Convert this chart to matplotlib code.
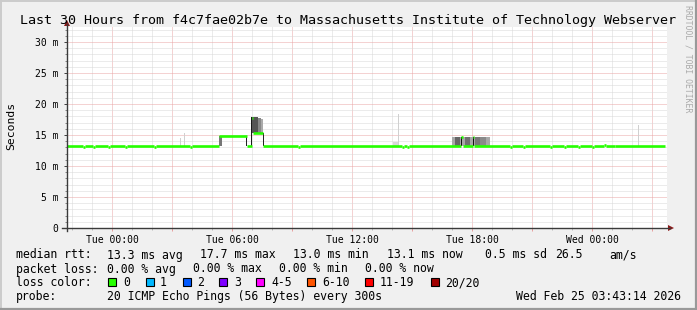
import matplotlib
matplotlib.use("Agg")
from matplotlib import pyplot as plt
from matplotlib.lines import Line2D
from matplotlib.patches import Polygon, Rectangle
import numpy as np

W, H = 697, 310
MONO = "DejaVu Sans Mono"

# median rtt (ms) as steps: hour (relative to Tue 00:00) where each value starts
med_t = [-2.25, -1.45, -1.37, -0.95, -0.87, -0.20, -0.12, 0.65, 0.73, 2.10,
         2.18, 3.90, 3.98, 5.37, 6.73, 6.98, 7.06, 7.57, 9.30, 9.38,
         14.50, 14.58, 14.75, 14.83, 17.45, 17.53, 18.03, 18.11, 19.90, 19.98,
         20.55, 20.63, 21.90, 21.98, 22.60, 22.68, 23.30, 23.38, 24.00, 24.08,
         24.60, 24.68, 25.15]
med_v = [13.3, 13.1, 13.3, 13.1, 13.3, 13.1, 13.3, 13.1, 13.3, 13.1,
         13.3, 13.1, 13.3, 14.9, 13.3, 17.7, 15.4, 13.3, 13.1, 13.3,
         13.1, 13.3, 13.1, 13.3, 14.6, 13.3, 14.6, 13.3, 13.1, 13.3,
         13.1, 13.3, 13.1, 13.3, 13.1, 13.3, 13.1, 13.3, 13.1, 13.3,
         13.4, 13.3, 13.15]
med_end = 27.65

# smoke: spread of the 20 pings in a slot
smoke_t = [5.37, 6.68, 6.95, 7.00, 7.28, 7.45, 7.55, 3.40, 3.60, 14.05,
           14.28, 26.28, 16.98, 17.15, 17.45, 17.65, 18.03, 18.15, 18.40]
smoke_w = [0.12, 0.06, 0.06, 0.28, 0.17, 0.10, 0.06, 0.06, 0.06, 0.25,
           0.07, 0.07, 1.92, 0.25, 0.06, 0.25, 0.06, 0.25, 0.30]
smoke_lo = [13.3, 13.3, 13.3, 15.4, 15.4, 15.4, 13.3, 13.3, 13.3, 13.3,
            13.3, 13.1, 13.3, 13.3, 13.3, 13.3, 13.3, 13.3, 13.3]
smoke_hi = [14.9, 14.9, 17.9, 17.9, 17.8, 17.6, 15.4, 14.5, 15.3, 13.9,
            18.4, 16.6, 14.6, 14.6, 14.6, 14.6, 14.6, 14.6, 14.6]
smoke_c = ["#777777", "#222222", "#1a1a1a", "#555555", "#888888", "#aaaaaa",
           "#222222", "#d0d0d0", "#d0d0d0", "#d8d8d8", "#d0d0d0", "#d0d0d0",
           "#a8a8a8", "#666666", "#111111", "#707070", "#111111", "#777777",
           "#8a8a8a"]

x_label_pos = [0, 6, 12, 18, 24]
x_labels = ["Tue 00:00", "Tue 06:00", "Tue 12:00", "Tue 18:00", "Wed 00:00"]
y_major = [0, 5, 10, 15, 20, 25, 30]
y_labels = ["0", "5 m", "10 m", "15 m", "20 m", "25 m", "30 m"]

rtt_stats = ["13.3 ms avg", "17.7 ms max", "13.0 ms min", "13.1 ms now", "0.5 ms sd", "26.5", "am/s"]
loss_stats = ["0.00 % avg", "0.00 % max", "0.00 % min", "0.00 % now"]
loss_names = ["0", "1", "2", "3", "4-5", "6-10", "11-19", "20/20"]
loss_colors = ["#26ff00", "#00b8ff", "#0059ff", "#7e00ff", "#ff00ff", "#ff5500", "#ff0000", "#a10000"]
probe_text = "20 ICMP Echo Pings (56 Bytes) every 300s"
stamp = "Wed Feb 25 03:43:14 2026"
title = "Last 30 Hours from f4c7fae02b7e to Massachusetts Institute of Technology Webserver"


def fx(x):
    return x / W


def fy(y):
    return 1 - y / H


fig = plt.figure(figsize=(W / 100, H / 100), dpi=100, facecolor="#f0f0f0")

# plot area: x 67..667 px, y 27..228 px
ax = fig.add_axes([fx(67), fy(228), 600 / W, 201 / H])
ax.set_facecolor("white")
ax.set_xlim(-2.25, 27.75)
ax.set_ylim(0, 201 / 6.2)
for s in ax.spines.values():
    s.set_visible(False)

ax.set_xticks(np.arange(0, 28, 3))
ax.set_xticks(np.arange(-2, 28, 1), minor=True)
lab = dict(zip(x_label_pos, x_labels))
ax.set_xticklabels([lab.get(int(v), "") for v in np.arange(0, 28, 3)])
ax.set_yticks(y_major)
ax.set_yticklabels(y_labels)
ax.set_yticks(np.arange(0, 33, 1), minor=True)

ax.set_axisbelow(True)
ax.grid(which="minor", color="#d8d8d8", linestyle=(0, (1, 1)), linewidth=0.72)
ax.grid(which="major", color="#eaa6a6", linestyle=(0, (1, 1)), linewidth=0.72)

ax.tick_params(axis="x", which="major", length=2.2, width=0.72, color="#e8a0a0",
               pad=3, labelsize=7, labelfontfamily=MONO)
ax.tick_params(axis="x", which="minor", length=1.5, width=0.72, color="#bbbbbb")
ax.tick_params(axis="y", which="major", length=2.2, width=0.72, color="#444444",
               pad=4, labelsize=7, labelfontfamily=MONO)
ax.tick_params(axis="y", which="minor", length=1.4, width=0.72, color="#888888")

# smoke then median
ax.bar(smoke_t, np.array(smoke_hi) - np.array(smoke_lo), width=smoke_w,
       bottom=smoke_lo, align="edge", color=smoke_c, linewidth=0, zorder=2)
ends = med_t[1:] + [med_end]
ax.hlines(med_v, med_t, ends, color=loss_colors[0], linewidth=1.9, zorder=3)

# axis lines with arrows
fig.add_artist(Line2D([fx(67), fx(67)], [fy(231), fy(24)], color="#3a3a3a", lw=1.0))
fig.add_artist(Line2D([fx(62), fx(670)], [fy(228), fy(228)], color="#3a3a3a", lw=1.0))
fig.add_artist(Polygon([(fx(64), fy(26)), (fx(70), fy(26)), (fx(67), fy(20))],
                       closed=True, color="#8b1a1a", lw=0))
fig.add_artist(Polygon([(fx(668), fy(225)), (fx(668), fy(231)), (fx(674), fy(228))],
                       closed=True, color="#8b1a1a", lw=0))

# frame
fig.add_artist(Line2D([0, 1], [fy(0.5), fy(0.5)], color="#cbcbcb", lw=1.4))
fig.add_artist(Line2D([fx(0.5), fx(0.5)], [0, 1], color="#cbcbcb", lw=1.4))
fig.add_artist(Line2D([0, 1], [fy(309), fy(309)], color="#999999", lw=1.6))
fig.add_artist(Line2D([fx(696), fx(696)], [0, 1], color="#999999", lw=1.6))

fig.text(fx(347.5), fy(24), title, ha="center", va="baseline",
         fontsize=9.6, family=MONO)
fig.text(fx(11), fy(126), "Seconds", ha="center", va="center", rotation=90,
         fontsize=8.2, family=MONO)
fig.text(fx(688), fy(5), "RRDTOOL / TOBI OETIKER", ha="center", va="top",
         rotation=-90, fontsize=5.9, family=MONO, color="#aaaaaa")

fs = 8.3
rows = [258.5, 272.5, 286.5, 300]
fig.text(fx(16), fy(rows[0]), "median rtt:", fontsize=fs, family=MONO, va="baseline")
for x, t in zip([107, 200, 293, 387, 485, 555, 609], rtt_stats):
    fig.text(fx(x), fy(rows[0]), t, fontsize=fs, family=MONO, va="baseline")
fig.text(fx(16), fy(rows[1]), "packet loss:", fontsize=fs, family=MONO, va="baseline")
for x, t in zip([107, 193, 279, 365], loss_stats):
    fig.text(fx(x), fy(rows[1]), t, fontsize=fs, family=MONO, va="baseline")
fig.text(fx(16), fy(rows[2]), "loss color:", fontsize=fs, family=MONO, va="baseline")
for bx, lx, name, c in zip([108, 146, 183, 219, 256, 307, 365, 431],
                           [123, 160, 197, 234, 271, 322, 380, 445],
                           loss_names, loss_colors):
    fig.add_artist(Rectangle((fx(bx), fy(286)), 8 / W, 8 / H, facecolor=c,
                             edgecolor="black", lw=0.8))
    fig.text(fx(lx), fy(rows[2]), name, fontsize=fs, family=MONO, va="baseline")
fig.text(fx(16), fy(rows[3]), "probe:", fontsize=fs, family=MONO, va="baseline")
fig.text(fx(107), fy(rows[3]), probe_text, fontsize=fs, family=MONO, va="baseline")
fig.text(fx(681), fy(rows[3]), stamp, fontsize=fs, family=MONO, va="baseline", ha="right")

fig.savefig("out.png", dpi=100, facecolor=fig.get_facecolor())
